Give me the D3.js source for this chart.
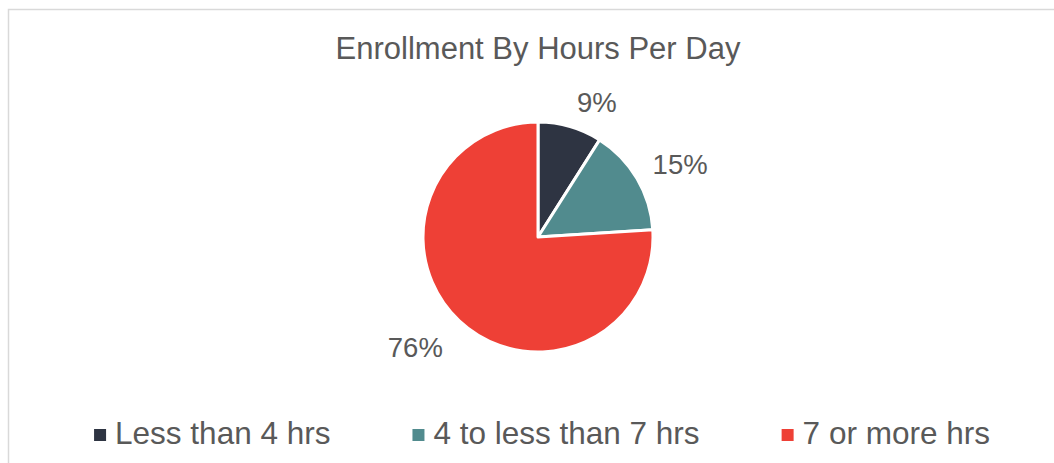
<!DOCTYPE html>
<html>
<head>
<meta charset="utf-8">
<script src="https://cdn.jsdelivr.net/npm/d3@7"></script>
<style>
    body { margin: 0; background: #fff; }
    text { font-family: "Liberation Sans", Arial, sans-serif; fill: #595959; }
</style>
</head>
<body>
<div id="pie-chart"></div>
<script>

// Chart data
var categories = ["Less than 4 hrs", "4 to less than 7 hrs", "7 or more hrs"];
var shares = [9, 15, 76];
var colors = ["#2e3442", "#518b8e", "#ee4036"];

var title = "Enrollment By Hours Per Day";

// Layout
var width = 1054, height = 463;
var center = {x: 538, y: 237};
var radius = 115;
var labelRadius = 150;
// small nudges so the outside labels sit where Excel's best-fit puts them
var labelNudge = [[17, 9], [13, 4], [-20, 1]];

var data = categories.map(function(c, i) {
    return {category: c, value: shares[i], color: colors[i], nudge: labelNudge[i]};
});

var svg = d3.select("#pie-chart").append("svg")
    .attr("width", width)
    .attr("height", height);

// Chart frame (runs off the right/bottom like the screenshot)
svg.append("rect")
    .attr("x", 8.5)
    .attr("y", 9.5)
    .attr("width", width + 20)
    .attr("height", height + 20)
    .attr("fill", "none")
    .attr("stroke", "#d9d9d9")
    .attr("stroke-width", 1.5);

// Title
svg.append("text")
    .attr("x", center.x)
    .attr("y", 59)
    .attr("text-anchor", "middle")
    .style("font-size", "31px")
    .text(title);

// Pie
var pie = d3.pie()
    .sort(null)
    .value(function(d) { return d.value; });

var arc = d3.arc()
    .innerRadius(0)
    .outerRadius(radius);

var labelArc = d3.arc()
    .innerRadius(labelRadius)
    .outerRadius(labelRadius);

var g = svg.append("g")
    .attr("transform", "translate(" + center.x + "," + center.y + ")");

var slices = g.selectAll(".slice")
    .data(pie(data))
    .enter().append("g")
    .attr("class", "slice");

slices.append("path")
    .attr("d", arc)
    .attr("fill", function(d) { return d.data.color; })
    .attr("stroke", "#fff")
    .attr("stroke-width", 3)
    .attr("stroke-linejoin", "round");

slices.append("text")
    .attr("transform", function(d) {
        var c = labelArc.centroid(d);
        return "translate(" + (c[0] + d.data.nudge[0]) + "," + (c[1] + d.data.nudge[1]) + ")";
    })
    .attr("text-anchor", "middle")
    .attr("dy", "0.35em")
    .style("font-size", "27.5px")
    .text(function(d) { return d.data.value + "%"; });

// Legend - laid out left to right, then centred
var legend = svg.append("g").attr("class", "legend");
var swatch = 12, swatchGap = 9, itemGap = 82;

var items = legend.selectAll(".legend-item")
    .data(data)
    .enter().append("g")
    .attr("class", "legend-item");

items.append("rect")
    .attr("x", 0)
    .attr("y", -15)
    .attr("width", swatch)
    .attr("height", swatch)
    .attr("fill", function(d) { return d.color; });

items.append("text")
    .attr("x", swatch + swatchGap)
    .attr("y", 0)
    .style("font-size", "31.5px")
    .text(function(d) { return d.category; });

var xPos = 0;
items.each(function() {
    var item = d3.select(this);
    item.attr("transform", "translate(" + xPos + ",0)");
    xPos += swatch + swatchGap + item.select("text").node().getComputedTextLength() + itemGap;
});
var legendWidth = xPos - itemGap;
legend.attr("transform", "translate(" + (542 - legendWidth / 2) + ",444)");

</script>
</body>
</html>
